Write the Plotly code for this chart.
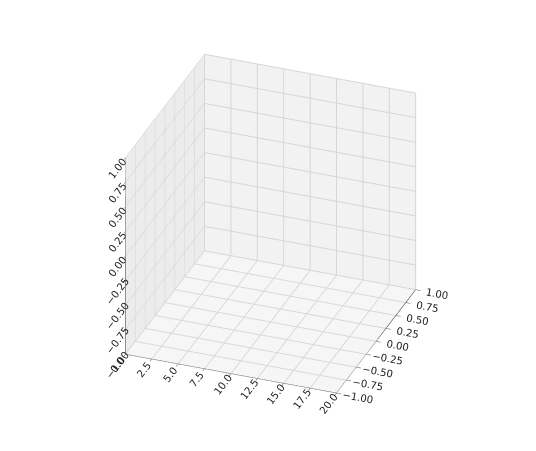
import plotly.graph_objects as go

# axis ranges and ticks of the empty 3D axes
x_ticks = [0.0, 2.5, 5.0, 7.5, 10.0, 12.5, 15.0, 17.5, 20.0]
y_ticks = [-1.0, -0.75, -0.5, -0.25, 0.0, 0.25, 0.5, 0.75, 1.0]
z_ticks = [-1.0, -0.75, -0.5, -0.25, 0.0, 0.25, 0.5, 0.75, 1.0]
x_labels = [f"{v:.1f}" for v in x_ticks]
y_labels = [f"{v:.2f}".replace("-", "\u2212") for v in y_ticks]
z_labels = [f"{v:.2f}".replace("-", "\u2212") for v in z_ticks]

fig = go.Figure()
# invisible trace so the scene exists
fig.add_trace(go.Scatter3d(x=[x_ticks[0]], y=[y_ticks[0]], z=[z_ticks[0]],
                           mode="markers", marker=dict(size=0.1, opacity=0),
                           hoverinfo="skip", showlegend=False))


def axis(ticks, labels, bg):
    return dict(range=[ticks[0], ticks[-1]], tickvals=ticks, ticktext=labels,
                title=dict(text=""), showbackground=True, backgroundcolor=bg,
                gridcolor="#d6d6d6", showline=True, linecolor="#333",
                zeroline=False, ticks="outside", tickfont=dict(size=11, color="#222"),
                showspikes=False)


fig.update_layout(
    width=536, height=451,
    paper_bgcolor="white",
    font=dict(family="DejaVu Sans"),
    margin=dict(l=0, r=0, t=0, b=0),
    scene=dict(
        xaxis=axis(x_ticks, x_labels, "#ececec"),
        yaxis=axis(y_ticks, y_labels, "#f2f2f2"),
        zaxis=axis(z_ticks, z_labels, "#f6f6f6"),
        aspectmode="cube",
        camera=dict(eye=dict(x=0.75, y=-2.0, z=1.15), center=dict(x=0, y=0, z=-0.05),
                    projection=dict(type="orthographic")),
        domain=dict(x=[0.0, 0.98], y=[0.0, 1.0]),
    ),
)

fig.write_html("out.html")
